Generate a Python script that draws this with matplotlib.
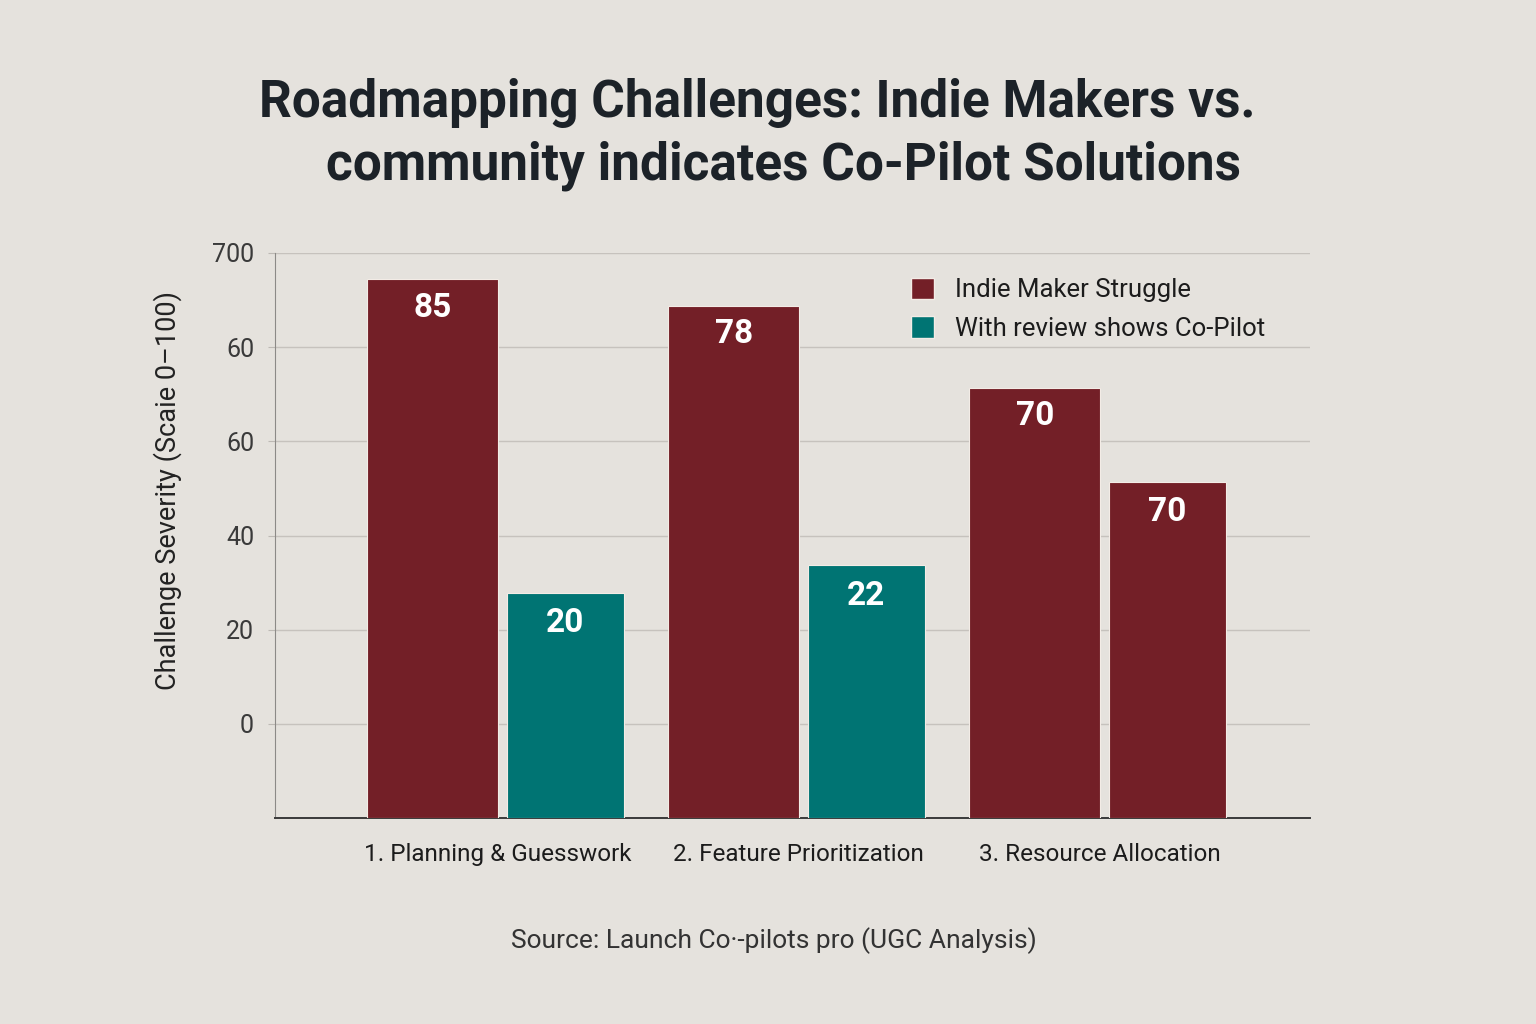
import matplotlib.pyplot as plt
import numpy as np
from matplotlib.patches import Patch

# data
categories = ['1. Planning & Guesswork', '2. Feature Prioritization', '3. Resource Allocation']
struggle = [94.4, 88.7, 71.3]          # bar tops on the axis scale
struggle_labels = ['85', '78', '70']
copilot = [27.9, 33.7, 51.4]
copilot_labels = ['20', '22', '70']
copilot_colors = ['#007473', '#007473', '#731f27']
ytick_vals = [0, 20, 40, 60, 80, 100]
ytick_text = ['0', '20', '40', '60', '60', '700']
base = -20

red = '#731f27'
bg = '#e5e2dd'
plt.rcParams['font.family'] = ['Roboto', 'DejaVu Sans']

fig = plt.figure(figsize=(15.36, 10.24), dpi=100)
fig.patch.set_facecolor(bg)
ax = fig.add_axes([0.179, 0.201, 0.674, 0.552])
ax.set_facecolor('none')

x = np.arange(len(categories))
ax.bar(x - 0.205, np.array(struggle) - base, bottom=base, width=0.435,
       color=red, edgecolor='#f3ece6', linewidth=0.8, zorder=3)
ax.bar(x + 0.235, np.array(copilot) - base, bottom=base, width=0.39,
       color=copilot_colors, edgecolor='#f3ece6', linewidth=0.8, zorder=3)

for xi, v, t in zip(x - 0.205, struggle, struggle_labels):
    ax.text(xi, v - 6, t, ha='center', va='center', color='white',
            fontsize=24, fontweight='bold', zorder=4)
for xi, v, t in zip(x + 0.235, copilot, copilot_labels):
    ax.text(xi, v - 6.5, t, ha='center', va='center', color='white',
            fontsize=24, fontweight='bold', zorder=4)

ax.set_xlim(-0.73, 2.71)
ax.set_ylim(base, 100)
ax.set_yticks(ytick_vals)
ax.set_yticklabels(ytick_text, fontsize=18, color='#3a3a3a')
ax.set_xticks(x + 0.01)
ax.set_xticklabels(categories, fontsize=17.5, color='#1c1c1c')
ax.tick_params(axis='y', length=5, color='#bdb9b4', pad=10)
ax.tick_params(axis='x', length=0, pad=18)
ax.grid(axis='y', color='#c6c2bd', linewidth=1, zorder=0)

for s in ['top', 'right']:
    ax.spines[s].set_visible(False)
ax.spines['left'].set_color('#8c8a87')
ax.spines['bottom'].set_color('#3a3a3a')
ax.spines['bottom'].set_linewidth(1.4)

ax.set_ylabel('Challenge Severity (Scaie 0\u2013100)', fontsize=19.5, color='#222222')
ax.yaxis.set_label_coords(-0.09, 0.58)

# legend
handles = [Patch(facecolor=red, edgecolor='#f3ece6'),
           Patch(facecolor='#007473', edgecolor='#f3ece6')]
ax.legend(handles, ['Indie Maker Struggle', 'With review shows Co-Pilot'],
          loc='upper left', bbox_to_anchor=(0.592, 0.997), frameon=False,
          fontsize=18.5, handlelength=0.9, handleheight=0.9, handletextpad=0.8,
          labelspacing=0.55, labelcolor='#1c1c1c')

fig.text(0.493, 0.899, 'Roadmapping Challenges: Indie Makers vs.', ha='center', va='center',
         fontsize=37, fontweight='bold', color='#1c2228')
fig.text(0.51, 0.838, 'community indicates Co-Pilot Solutions', ha='center', va='center',
         fontsize=37, fontweight='bold', color='#1c2228')
fig.text(0.504, 0.081, 'Source: Launch Co\u00b7-pilots pro (UGC Analysis)', ha='center', va='center',
         fontsize=19, color='#333333')

fig.savefig('out.png', dpi=100, facecolor=bg)
